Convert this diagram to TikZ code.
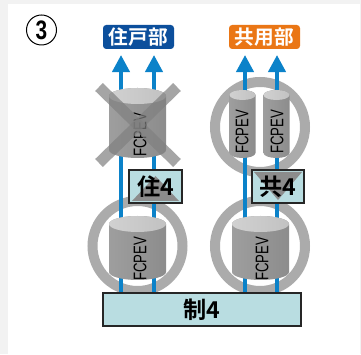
\documentclass[tikz,border=0pt]{standalone}
\usepackage{fontspec}
\setmainfont{Liberation Sans}
\newfontfamily\jpfont{Noto Sans CJK JP}[BoldFont={Noto Sans CJK JP Bold}]
\usetikzlibrary{arrows.meta}

\definecolor{flowblue}{HTML}{0B82C9}
\definecolor{houseblue}{HTML}{0C4F9C}
\definecolor{shareorange}{HTML}{EA7615}
\definecolor{boxcyan}{HTML}{B9DDE1}

\tikzset{
  ring/.style={draw=black!33, line width=2.5mm},
  flow/.style={draw=flowblue, line width=1mm, -{Triangle[width=4.3mm,length=4.3mm]}},
  tag/.style={rounded corners=0.8mm, text=white, inner sep=0,
    minimum width=17.75mm, minimum height=6mm,
    font=\jpfont\bfseries\fontsize{14}{14}\selectfont},
  unitbox/.style={draw=black!85, line width=0.5mm, fill=boxcyan, inner sep=0,
    minimum height=8.25mm, font=\jpfont\bfseries\fontsize{16.5}{16.5}\selectfont},
  devlabel/.style={rotate=90, inner sep=0, font=\fontsize{13}{13}\selectfont},
  drum body/.style={left color=black!38, middle color=black!6, right color=black!45},
  drum top/.style={left color=black!18, middle color=black!3, right color=black!24},
  nope/.style={draw=black!50, opacity=0.7, line width=2.75mm},
}

% cylinder: centre x, top y, bottom y, x radius, y radius
\newcommand\drum[5]{%
  \shade[drum body] (#1-#4,#2) -- (#1-#4,#3)
    arc[start angle=180, end angle=360, x radius=#4, y radius=#5]
    -- (#1+#4,#2) arc[start angle=0, end angle=180, x radius=#4, y radius=#5] -- cycle;
  \shade[drum top] (#1,#2) ellipse[x radius=#4, y radius=#5];
}

\begin{document}
\begin{tikzpicture}[x=0.25mm, y=0.25mm]
\useasboundingbox (0,0) rectangle (361,354);
\fill[black!5] (0,0) rectangle (361,354);
\fill[white] (8,0) rectangle (360,350);

% rings
\draw[ring] (260,227) circle (45);
\draw[ring] (137.5,108) circle (45);
\draw[ring] (260,108) circle (45);

% boxes
\node[unitbox, minimum width=49.5mm] (sei4) at (202,44.5) {制4};
\node[tag, fill=houseblue] (jukobu) at (138.5,317) {住戸部};
\node[tag, fill=shareorange] (kyobu) at (264.5,317) {共用部};

% arrow tips
\coordinate (u1) at (121,299);
\coordinate (u2) at (154,299);
\coordinate (u3) at (245,299);
\coordinate (u4) at (277,299);
\draw[flow] (sei4.north -| u1) -- (u1);
\draw[flow] (sei4.north -| u2) -- (u2);
\draw[flow] (sei4.north -| u3) -- (u3);
\draw[flow] (sei4.north -| u4) -- (u4);

% units
\drum{137.5}{258}{204}{28.5}{8}
\drum{242.5}{259}{201}{13}{5}
\drum{276.5}{259}{201}{13}{5}
\drum{137.5}{130}{82}{28.5}{8}
\drum{260.5}{130}{82}{28.5}{8}
\node[devlabel] (ev1) at (140,219) {\scalebox{0.72}[1]{FCPEV}};
\node[devlabel] (ev2) at (242,222) {\scalebox{0.72}[1]{FCPEV}};
\node[devlabel] (ev3) at (277,222) {\scalebox{0.72}[1]{FCPEV}};
\node[devlabel] (ev4) at (140,95) {\scalebox{0.72}[1]{FCPEV}};
\node[devlabel] (ev5) at (262,95) {\scalebox{0.72}[1]{FCPEV}};

% crossed out
\draw[nope] (99,267) -- (177,191);
\draw[nope] (177,267) -- (99,191);

\node[unitbox, minimum width=13.25mm,
  path picture={\fill[black!45]
    ([xshift=0.75mm,yshift=0.5mm]path picture bounding box.south west)
    -- ([xshift=-0.75mm,yshift=0.5mm]path picture bounding box.south east)
    -- ([yshift=-1.5mm]path picture bounding box.north) -- cycle;}]
  (ju4) at (155.5,167.5) {住4};
\node[unitbox, minimum width=13mm,
  path picture={\fill[black!45]
    ([xshift=0.5mm,yshift=-0.5mm]path picture bounding box.north west)
    -- ([xshift=-0.5mm,yshift=-0.5mm]path picture bounding box.north east)
    -- ([yshift=0.75mm]path picture bounding box.south) -- cycle;}]
  (kyo4) at (278,167.5) {共4};

\node[draw, circle, line width=0.25mm, minimum size=7.5mm, inner sep=0,
  font=\bfseries\fontsize{19}{19}\selectfont] (num) at (41.5,324) {\scalebox{0.78}[1]{3}};
\end{tikzpicture}
\end{document}
